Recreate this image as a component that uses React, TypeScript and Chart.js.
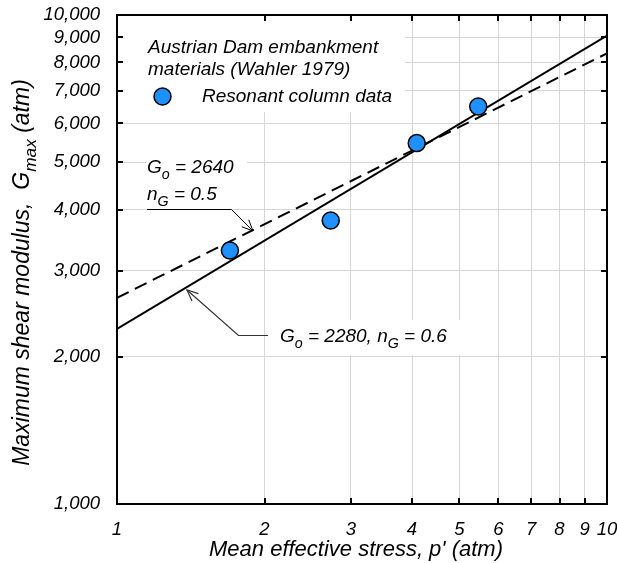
import { useEffect, useRef } from 'react';
import { Chart, registerables } from 'chart.js';

Chart.register(...registerables);

const FONT = '"Liberation Sans", Arial, Helvetica, sans-serif';

// Resonant column test results (mean effective stress vs. Gmax, both in atm)
const STRESS_ATM = [1.7, 2.73, 4.09, 5.46];
const GMAX_ATM = [3300, 3800, 5470, 6500];

// Power-law fits G = Go * p'^nG
const FIT_SOLID_GO = 2280;
const FIT_SOLID_NG = 0.6;
const FIT_DASHED_GO = 2640;
const FIT_DASHED_NG = 0.5;
const FIT_RANGE = [1, 10];

// Axis ticks
const X_TICKS = [1, 2, 3, 4, 5, 6, 7, 8, 9, 10];
const X_TICK_LABELS = ['1', '2', '3', '4', '5', '6', '7', '8', '9', '10'];
const Y_TICKS = [1000, 2000, 3000, 4000, 5000, 6000, 7000, 8000, 9000, 10000];
const Y_TICK_LABELS = ['1,000', '2,000', '3,000', '4,000', '5,000', '6,000', '7,000', '8,000', '9,000', '10,000'];

type Run = { t: string; sub?: boolean };

const italic = (size: number) => `italic ${size}px ${FONT}`;

function drawRuns(
  ctx: CanvasRenderingContext2D,
  runs: Run[],
  x: number,
  y: number,
  size: number,
  align: 'left' | 'center' = 'left'
) {
  const subSize = size * 0.75;
  const widths = runs.map((r) => {
    ctx.font = italic(r.sub ? subSize : size);
    return ctx.measureText(r.t).width;
  });
  const total = widths.reduce((a, b) => a + b, 0);
  let cx = align === 'center' ? x - total / 2 : x;
  ctx.textBaseline = 'alphabetic';
  ctx.textAlign = 'left';
  runs.forEach((r, i) => {
    ctx.font = italic(r.sub ? subSize : size);
    ctx.fillText(r.t, cx, r.sub ? y + size * 0.3 : y);
    cx += widths[i];
  });
}

function drawArrow(
  ctx: CanvasRenderingContext2D,
  pts: [number, number][],
  color: string,
  width: number
) {
  ctx.save();
  ctx.strokeStyle = color;
  ctx.lineWidth = width;
  ctx.beginPath();
  pts.forEach(([px, py], i) => (i === 0 ? ctx.moveTo(px, py) : ctx.lineTo(px, py)));
  ctx.stroke();
  const [tx, ty] = pts[pts.length - 1];
  const [bx, by] = pts[pts.length - 2];
  const ang = Math.atan2(by - ty, bx - tx);
  const len = 12;
  const spread = 0.42;
  ctx.beginPath();
  ctx.moveTo(tx + len * Math.cos(ang + spread), ty + len * Math.sin(ang + spread));
  ctx.lineTo(tx, ty);
  ctx.lineTo(tx + len * Math.cos(ang - spread), ty + len * Math.sin(ang - spread));
  ctx.stroke();
  ctx.restore();
}

const decorations = {
  id: 'decorations',
  beforeDatasetsDraw(chart: Chart) {
    const ctx = chart.ctx;
    ctx.save();
    // white backdrops behind the text blocks
    ctx.fillStyle = '#ffffff';
    ctx.fillRect(118, 16, 287, 96);
    ctx.fillRect(146, 148, 101, 53);
    ctx.fillRect(269, 320, 196, 35);

    ctx.fillStyle = '#000';
    drawRuns(ctx, [{ t: 'Austrian Dam embankment' }], 148, 53, 19);
    drawRuns(ctx, [{ t: 'materials (Wahler 1979)' }], 148, 75, 19);
    drawRuns(ctx, [{ t: 'Resonant column data' }], 202, 102, 19);

    // legend marker
    ctx.beginPath();
    ctx.arc(162.5, 96.5, 8.5, 0, Math.PI * 2);
    ctx.fillStyle = '#1E90FF';
    ctx.fill();
    ctx.lineWidth = 1.5;
    ctx.strokeStyle = '#000';
    ctx.stroke();

    ctx.fillStyle = '#000';
    drawRuns(ctx, [{ t: 'G' }, { t: 'o', sub: true }, { t: ' = 2640' }], 147, 173, 19);
    drawRuns(ctx, [{ t: 'n' }, { t: 'G', sub: true }, { t: ' = 0.5' }], 147, 200, 19);
    drawRuns(
      ctx,
      [{ t: 'G' }, { t: 'o', sub: true }, { t: ' = 2280, n' }, { t: 'G', sub: true }, { t: ' = 0.6' }],
      280,
      342,
      19
    );
    ctx.restore();
  },
  afterDatasetsDraw(chart: Chart) {
    const ctx = chart.ctx;
    const { left, right, top, bottom } = chart.chartArea;
    const xs = chart.scales.x;
    const ys = chart.scales.y;
    ctx.save();

    // leader arrows
    drawArrow(ctx, [[147, 209.5], [231.5, 209.5], [253, 231]], '#000', 1);
    drawArrow(ctx, [[268, 335.5], [238.5, 335.5], [187, 290]], '#333', 1.2);

    // frame with inward ticks
    ctx.strokeStyle = '#000';
    ctx.lineWidth = 2;
    ctx.strokeRect(left, top, right - left, bottom - top);
    const tick = 6;
    ctx.beginPath();
    X_TICKS.forEach((v) => {
      const px = Math.round(xs.getPixelForValue(v));
      ctx.moveTo(px, bottom);
      ctx.lineTo(px, bottom - tick);
      ctx.moveTo(px, top);
      ctx.lineTo(px, top + tick);
    });
    Y_TICKS.forEach((v) => {
      const py = Math.round(ys.getPixelForValue(v));
      ctx.moveTo(left, py);
      ctx.lineTo(left + tick, py);
      ctx.moveTo(right, py);
      ctx.lineTo(right - tick, py);
    });
    ctx.stroke();
    ctx.restore();
  },
  afterDraw(chart: Chart) {
    const ctx = chart.ctx;
    const { left, right, top, bottom } = chart.chartArea;
    ctx.save();
    ctx.fillStyle = '#000';
    // x-axis title
    drawRuns(ctx, [{ t: "Mean effective stress, p' (atm)" }], (left + right) / 2 - 6, 556, 22, 'center');
    // y-axis title
    ctx.translate(29, (top + bottom) / 2 + 13);
    ctx.rotate(-Math.PI / 2);
    drawRuns(
      ctx,
      [{ t: 'Maximum shear modulus,  G' }, { t: 'max', sub: true }, { t: ' (atm)' }],
      0,
      0,
      23,
      'center'
    );
    ctx.restore();
  },
};

export default function App() {
  const canvasRef = useRef<HTMLCanvasElement | null>(null);

  useEffect(() => {
    const canvas = canvasRef.current;
    if (!canvas) return;

    const fitLine = (g0: number, n: number) => FIT_RANGE.map((p) => ({ x: p, y: g0 * Math.pow(p, n) }));

    const chart = new Chart(canvas, {
      type: 'scatter',
      data: {
        datasets: [
          {
            type: 'line',
            label: 'Go = 2280, nG = 0.6',
            data: fitLine(FIT_SOLID_GO, FIT_SOLID_NG),
            borderColor: '#000',
            borderWidth: 2,
            pointRadius: 0,
            fill: false,
            order: 2,
          },
          {
            type: 'line',
            label: 'Go = 2640, nG = 0.5',
            data: fitLine(FIT_DASHED_GO, FIT_DASHED_NG),
            borderColor: '#000',
            borderWidth: 2,
            borderDash: [13, 7],
            pointRadius: 0,
            fill: false,
            order: 1,
          },
          {
            type: 'scatter',
            label: 'Resonant column data',
            data: STRESS_ATM.map((p, i) => ({ x: p, y: GMAX_ATM[i] })),
            backgroundColor: '#1E90FF',
            borderColor: '#000',
            borderWidth: 1.5,
            pointRadius: 8.5,
            order: 0,
          },
        ],
      },
      options: {
        animation: false,
        responsive: true,
        maintainAspectRatio: false,
        layout: { padding: { top: 15, right: 10, left: 0, bottom: 0 } },
        plugins: {
          legend: { display: false },
          tooltip: { enabled: false },
        },
        scales: {
          x: {
            type: 'logarithmic',
            min: 1,
            max: 10,
            afterBuildTicks: (s: any) => {
              s.ticks = X_TICKS.map((v) => ({ value: v }));
            },
            afterFit: (s: any) => {
              s.height = 59;
              s.paddingLeft = 0;
              s.paddingRight = 0;
            },
            ticks: {
              autoSkip: false,
              maxRotation: 0,
              padding: 15,
              color: '#000',
              font: { family: FONT, size: 18.5, style: 'italic' },
              callback: (v: any) => X_TICK_LABELS[X_TICKS.indexOf(Number(v))] ?? '',
            },
            grid: { color: '#d6d6d6', lineWidth: 1, drawTicks: false },
            border: { display: false },
          },
          y: {
            type: 'logarithmic',
            min: 1000,
            max: 10000,
            afterBuildTicks: (s: any) => {
              s.ticks = Y_TICKS.map((v) => ({ value: v }));
            },
            afterFit: (s: any) => {
              s.width = 117;
              s.paddingTop = 0;
              s.paddingBottom = 0;
            },
            ticks: {
              autoSkip: false,
              padding: 17,
              color: '#000',
              font: { family: FONT, size: 18.5, style: 'italic' },
              callback: (v: any) => Y_TICK_LABELS[Y_TICKS.indexOf(Number(v))] ?? '',
            },
            grid: { color: '#d6d6d6', lineWidth: 1, drawTicks: false },
            border: { display: false },
          },
        },
      },
      plugins: [decorations],
    });

    return () => chart.destroy();
  }, []);

  return (
    <div style={{ position: 'fixed', left: 0, top: 0, width: 617, height: 563, background: '#fff' }}>
      <canvas ref={canvasRef} />
    </div>
  );
}
